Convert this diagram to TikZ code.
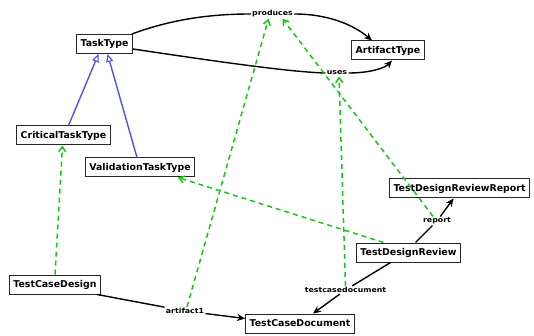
\documentclass[tikz,border=0pt]{standalone}
\usepackage{fontspec}
\usetikzlibrary{arrows.meta}
\newfontfamily\bxfont{DejaVu Sans}
\newfontfamily\lbfont[FakeStretch=1.12]{DejaVu Sans}
\definecolor{depgreen}{RGB}{20,200,20}
\definecolor{genblue}{RGB}{80,80,240}
\tikzset{
  cls/.style={draw=black!85, line width=1pt, fill=white, inner xsep=4pt, inner ysep=0pt,
    minimum height=19pt, font=\bxfont\bfseries\fontsize{9.4}{11}\selectfont},
  lbl/.style={fill=white, inner sep=1.2pt, font=\lbfont\bfseries\fontsize{7}{8}\selectfont},
  assoc/.style={line width=1.4pt, black},
  assocarr/.style={assoc, -{Stealth[length=8pt,width=7pt,inset=2.5pt]}},
  gen/.style={line width=1.4pt, genblue, -{Triangle[open,length=8pt,width=7pt,fill=white,line width=1.1pt]}},
  dep/.style={line width=1.5pt, depgreen, dash pattern=on 5pt off 4pt, -{Straight Barb[length=5pt,width=7pt]}}
}
\begin{document}
\begin{tikzpicture}[x=1pt,y=-1pt]
\useasboundingbox (0,0) rectangle (534,336);
% class boxes
\node[cls] (tasktype) at (104.5,44) {TaskType};
\node[cls] (artifacttype) at (388,50.5) {ArtifactType};
\node[cls] (critical) at (63.5,135.5) {CriticalTaskType};
\node[cls] (validation) at (140,167.5) {ValidationTaskType};
\node[cls] (tdrr) at (459.5,188.5) {TestDesignReviewReport};
\node[cls] (tdr) at (408.5,252.5) {TestDesignReview};
\node[cls] (tcd) at (55,284.5) {TestCaseDesign};
\node[cls] (tcdoc) at (300,323.5) {TestCaseDocument};
% labels
\node[lbl] (produces) at (272.5,14) {produces};
\node[lbl] (uses) at (337,73) {uses};
\node[lbl] (artifact1) at (185,311) {artifact1};
\node[lbl] (report) at (437,221) {report};
\node[lbl] (tcdocl) at (345.5,290) {testcasedocument};
% associations
\draw[assoc] ([xshift=-1pt]tasktype.north east) .. controls (175,18) and (215,14) .. (produces.west);
\draw[assocarr] (produces.east) .. controls (330,14) and (355,26) .. ([xshift=-16pt]artifacttype.north);
\draw[assoc] ([yshift=-5pt]tasktype.east) .. controls (220,62) and (290,72) .. (uses.west);
\draw[assocarr] (uses.east) .. controls (370,73) and (385,68) .. ([xshift=4pt]artifacttype.south);
\draw[assoc] ([xshift=-4pt]tcd.south east) -- (artifact1);
\draw[assocarr] (artifact1) -- ([yshift=5pt]tcdoc.west);
\draw[assoc] ([xshift=7pt]tdr.north) -- (report);
\draw[assocarr] (report) -- ([xshift=-6pt]tdrr.south);
\draw[assoc] ([xshift=-18pt]tdr.south) -- (tcdocl);
\draw[assocarr] (tcdocl) -- ([xshift=13pt]tcdoc.north);
% generalizations
\draw[gen] ([xshift=5pt]critical.north) -- ([xshift=-6pt]tasktype.south);
\draw[gen] ([xshift=-3pt]validation.north) -- ([xshift=3pt]tasktype.south);
% dependencies
\draw[dep] (tcd.north) -- ([xshift=-1pt]critical.south);
\draw[dep] ([xshift=2pt]artifact1.north) -- ([xshift=-4pt]produces.south);
\draw[dep] ([xshift=-25pt]tdr.north) -- ([xshift=38pt]validation.south);
\draw[dep] ([xshift=-4pt]report.north) -- ([xshift=10pt]produces.south);
\draw[dep] (tcdocl.north) -- ([xshift=2pt]uses.south);
\end{tikzpicture}
\end{document}
